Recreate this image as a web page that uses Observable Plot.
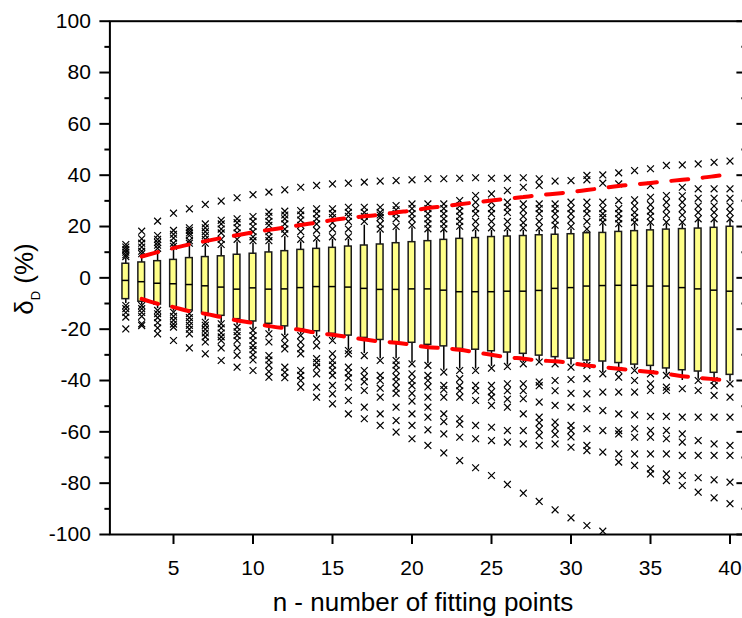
<!DOCTYPE html>
<html><head><meta charset="utf-8">
<script src="https://cdn.jsdelivr.net/npm/d3@7"></script>
<script src="https://cdn.jsdelivr.net/npm/@observablehq/plot@0.6"></script>
<style>
body{margin:0;background:#fff}
#chart svg{font-family:"Liberation Sans",Arial,sans-serif;overflow:hidden;display:block}
</style>
</head><body><div id="chart"></div>
<script>
// ---- data ----
const nValues = [2,3,4,5,6,7,8,9,10,11,12,13,14,15,16,17,18,19,20,21,22,23,24,25,26,27,28,29,30,31,32,33,34,35,36,37,38,39,40];
const q3 = [5.5,6.0,6.5,7.0,7.7,8.1,8.4,9.0,9.4,9.9,10.4,10.9,11.3,11.7,12.2,12.6,13.0,13.5,13.9,14.3,14.8,15.2,15.5,15.9,16.1,16.3,16.6,16.8,17.0,17.4,17.5,17.9,18.2,18.5,18.8,19.0,19.2,19.5,19.9];
const median = [-1.0,-1.5,-2.1,-2.3,-2.6,-3.1,-3.6,-4.4,-3.9,-4.4,-4.3,-3.8,-3.4,-3.4,-3.6,-4.1,-4.5,-4.5,-4.3,-4.3,-4.8,-5.4,-5.4,-5.4,-5.2,-5.2,-4.9,-4.1,-3.8,-3.2,-3.0,-2.9,-2.9,-3.2,-3.2,-3.8,-4.3,-4.8,-5.2];
const q1 = [-8.3,-9.3,-10.4,-11.4,-12.7,-13.8,-14.8,-16.1,-17.0,-17.9,-18.9,-20.0,-20.8,-21.8,-22.5,-23.4,-24.2,-25.1,-25.3,-26.1,-26.7,-27.7,-28.0,-28.6,-29.1,-29.6,-30.3,-30.9,-31.5,-32.2,-32.6,-33.2,-33.8,-34.3,-35.3,-36.0,-36.5,-37.0,-37.8];
const whiskerHigh = [7.5,8.5,10.5,11.5,12.5,12.5,12,14,13.5,13.5,16,14,14.5,15,15,20.5,18,19,19.5,18.5,18.5,19.5,18.5,18.5,18.5,18.5,18.5,20,19,18,21,20.5,21,21,21,21,22.5,22.5,22.5];
const whiskerLow = [-10,-10.5,-12,-13,-13.5,-16.5,-17.5,-18.5,-20,-21,-22.5,-22,-23,-24,-28,-29.5,-31.5,-31.5,-33,-33.5,-36,-35.5,-35.5,-34.5,-34,-33,-32.5,-33,-34,-33.5,-37,-35.5,-35.5,-37,-37.5,-40,-39.5,-39.5,-40.5];
const outliersHigh = [
  [13,12,11,10,9,8.3],
  [18.2,15.2,13.5,12,10.4,9.4],
  [22.1,16.5,15,13.8,12.7,11.5],
  [25.2,18.5,17,15.5,13.5,12.3],
  [26.9,19.5,18.5,17.5,16.5,14.5,13.5],
  [28.6,21,19.5,18,16.5,15,13.5],
  [29.9,22.4,21,19,17.5,15,13],
  [31.2,23,21.5,19.5,17.5,15],
  [32.4,23.9,22,20,18,16,14.5],
  [33.4,25.6,24,22,20.5,18,16,14.5],
  [34.3,26,24.5,23,21,19,17.2],
  [35.3,26.2,24.5,22.5,20.5,18,15],
  [36,26.9,25,23,21,18.5,15.5],
  [36.6,26.9,25,23.5,21.5,19,16],
  [36.9,27.5,25.5,24,22,19,16],
  [37.3,27.5,25.5,24,22],
  [37.7,27.5,25.5,24.5,23.5,21,19],
  [37.9,28.2,26.5,25,23,20],
  [38.2,28.8,27,25,23,20.5],
  [38.6,28.8,27,25,23,21,19.1],
  [38.6,28.8,27,25,23,21,19.1],
  [38.8,30.1,28,26,24,22,20.1],
  [39,32.1,29.5,27,25,22,19.5],
  [38.8,32.7,29.5,27,25,22,19.5],
  [38.8,34,29.5,27.5,25.5,22,19.5],
  [39,35.3,28.8,26.5,24,21.5,19.5],
  [38.6,36,28.8,27,25,22,19.5],
  [37.7,28.8,27,25,22.5,20.5],
  [37.9,29.5,27,25,22.5,20],
  [39.9,38.2,29.5,27,25,22,19],
  [40.1,36.9,29.5,27,25,23.5,21.7],
  [40.9,36.6,30.1,27,25,23,21.1],
  [41.8,30.4,28,25.5,23.5,21.7],
  [42.5,36,31.4,28.5,26,24,21.7],
  [43.8,32.1,29.5,27,24.5,21.7],
  [44,35.3,32,29.5,27,24.5,21.7],
  [44.4,34.7,31,28,25.5,23],
  [45,34.7,31,28,25.5,23],
  [45.5,34.7,31,28,25.5,23]
];
const outliersLow = [
  [-10.8,-12,-13.5,-15.3,-19.9],
  [-10.8,-12,-13.5,-15,-17.9,-18.6],
  [-12.7,-14,-15.5,-17.5,-19.5,-21.8],
  [-13.4,-15,-16.5,-18,-19.2,-24.4],
  [-14,-15.5,-17,-18.5,-20,-21.8,-27.3],
  [-17.3,-18.5,-20,-21.5,-23,-25,-29.6],
  [-17.9,-19.5,-21.5,-23,-24.4,-27.3,-32.2],
  [-19.2,-21,-22.5,-24.4,-27.3,-30.2,-34.8],
  [-20.5,-22.5,-24.4,-26.4,-28,-30,-32,-36.1],
  [-21.8,-25,-30.3,-32,-34,-36.5,-38.7],
  [-23.1,-25.7,-27.7,-34.8,-36.8,-38.9],
  [-22.5,-25,-27.6,-29.6,-36.1,-38,-40,-42.6],
  [-23.8,-26.5,-31.5,-33,-34.7,-37.4,-42.6,-46.5],
  [-24.4,-29.6,-32.2,-34,-36,-38,-41.9,-45.2,-49.1],
  [-28.3,-29.6,-34.8,-37,-39,-42.6,-47.8,-53],
  [-30.3,-36.1,-38.5,-40.5,-43.9,-50.4,-54.9],
  [-32.2,-38,-40,-43,-46.5,-53,-57.5],
  [-32.2,-34,-36,-38.5,-40.5,-43,-45,-50.4,-55.6,-60.1],
  [-33.5,-37.4,-40,-42,-45,-48,-53,-57.5,-62.7],
  [-34.1,-38,-40,-42.5,-46.5,-50.4,-54.3,-59.2,-65.3],
  [-36.7,-41.9,-43.5,-46.5,-53,-56,-60.8,-68.2],
  [-36.1,-39.3,-42,-44,-46.5,-54.9,-57,-62.1,-71.2],
  [-36.1,-41.9,-44,-47.8,-57.5,-62.7,-74.0],
  [-35.2,-41.9,-44.4,-46.5,-49.7,-58.2,-63.4,-77.0],
  [-34.5,-41.3,-44,-47.3,-50.4,-59.5,-64,-80.5],
  [-33.5,-41.3,-44,-47.1,-53,-59.5,-64.7,-83.9],
  [-32.8,-40.6,-42,-48.4,-54.3,-56.5,-59,-61.5,-65.3,-87.1],
  [-33.5,-40,-44,-49.7,-56.2,-58.5,-61,-64.7,-90.4],
  [-34.8,-39.6,-45,-50.4,-57.5,-59.5,-62,-66,-93.5],
  [-34.1,-39.3,-45.2,-51,-58.8,-65.3,-67.3,-96.5],
  [-37.4,-44.5,-51.7,-59.5,-67.9,-98.7],
  [-36.1,-38.7,-44.5,-53,-59.5,-60.8,-68.6,-71.8],
  [-36.1,-40,-44.5,-53.4,-58.8,-62.1,-68.6,-73.1],
  [-37.4,-41.3,-43.9,-54,-59.5,-62.1,-68.6,-74.4,-76.4],
  [-38,-42.6,-43.9,-54,-59.5,-62.7,-68.6,-76.4,-79],
  [-43.2,-54.3,-60.8,-64,-69.2,-77,-80.9],
  [-40,-43.9,-54.3,-63.4,-69.2,-77.9,-83.5],
  [-40,-42,-45.8,-54.3,-64.7,-69.2,-78.7,-85.7],
  [-41.3,-46.5,-54.3,-65.3,-69.2,-79.6,-88.0]
];
const limitN = [3,4,5,6,7,8,9,10,11,12,13,14,15,16,17,18,19,20,21,22,23,24,25,26,27,28,29,30,31,32,33,34,35,36,37,38,39,40];
const limitUpper = [8.3,10.0,11.6,13.0,14.3,15.5,16.6,17.7,18.7,19.6,20.6,21.5,22.5,23.3,24.0,24.6,25.5,26.2,27.2,27.9,28.7,29.4,30.1,30.8,31.5,32.2,32.8,33.4,34.2,35.0,35.8,36.4,37.0,37.6,38.2,38.8,39.6,40.3];
const limitLower = [-8.2,-10.1,-11.4,-13.0,-14.0,-15.3,-16.6,-17.6,-18.8,-19.6,-20.3,-21.4,-22.2,-23.1,-24.0,-24.8,-25.3,-26.1,-27.0,-27.4,-28.0,-29.0,-30.0,-30.9,-31.5,-32.2,-32.5,-33.2,-34.1,-34.8,-35.4,-36.1,-36.7,-37.4,-38.3,-39.0,-39.5,-40.3];
const yMajorTicks = [-100,-80,-60,-40,-20,0,20,40,60,80,100];
const yMinorTicks = [-90,-70,-50,-30,-10,10,30,50,70,90];
const xTicks = [5,10,15,20,25,30,35,40];

// ---- build tables ----
const boxes = nValues.map((n, i) => ({n, q1: q1[i], med: median[i], q3: q3[i], lo: whiskerLow[i], hi: whiskerHigh[i]}));
const outPts = nValues.flatMap((n, i) => [...outliersHigh[i], ...outliersLow[i]].map(v => ({n, v})));
const upperPts = limitN.map((n, i) => ({n, v: limitUpper[i]}));
const lowerPts = limitN.map((n, i) => ({n, v: limitLower[i]}));
const half = 0.21;

const chart = Plot.plot({
  width: 742,
  height: 618,
  marginLeft: 109.4,
  marginRight: -3.4,
  marginTop: 20.7,
  marginBottom: 84,
  x: {domain: [1, 41]},
  y: {domain: [-100, 100]},
  style: {fontFamily: '"Liberation Sans", Arial, sans-serif', background: "#fff"},
  marks: [
    Plot.ruleX(boxes, {x: "n", y1: "lo", y2: "q1", stroke: "#000", strokeWidth: 1.5}),
    Plot.ruleX(boxes, {x: "n", y1: "q3", y2: "hi", stroke: "#000", strokeWidth: 1.5}),
    Plot.dot(outPts, {x: "n", y: "v", symbol: "times", r: 3.2, stroke: "#000", strokeWidth: 1.2}),
    Plot.rect(boxes, {x1: d => d.n - half, x2: d => d.n + half, y1: "q1", y2: "q3", fill: "#ffff88", stroke: "#1a1a1a", strokeWidth: 1.5}),
    Plot.ruleY(boxes, {y: "med", x1: d => d.n - half, x2: d => d.n + half, stroke: "#000", strokeWidth: 1.5}),
    Plot.line(upperPts, {x: "n", y: "v", stroke: "#ff0000", strokeWidth: 4, strokeDasharray: "17,14.5", curve: "monotone-x"}),
    Plot.line(lowerPts, {x: "n", y: "v", stroke: "#ff0000", strokeWidth: 4, strokeDasharray: "17,14.5", curve: "monotone-x"}),
    Plot.axisY(yMajorTicks, {anchor: "left", tickSize: 10, tickPadding: 9, fontSize: 21, strokeWidth: 2, label: null, tickFormat: d => String(d)}),
    Plot.axisY(yMinorTicks, {anchor: "left", tickSize: 5, strokeWidth: 2, label: null, tickFormat: () => ""}),
    Plot.axisY(yMajorTicks, {anchor: "right", tickSize: -10, strokeWidth: 2, label: null, tickFormat: () => ""}),
    Plot.axisY(yMinorTicks, {anchor: "right", tickSize: -5, strokeWidth: 2, label: null, tickFormat: () => ""}),
    Plot.axisX(xTicks, {anchor: "bottom", tickSize: 10, tickPadding: 16, fontSize: 21, strokeWidth: 2, label: null, tickFormat: d => String(d)}),
    Plot.frame({stroke: "#000", strokeWidth: 2})
  ]
});

const svg = d3.select(chart);
svg.append("text")
  .attr("x", 423).attr("y", 611)
  .attr("text-anchor", "middle")
  .attr("font-size", 26)
  .attr("fill", "#000")
  .text("n - number of fitting points");
const yl = svg.append("text")
  .attr("transform", "translate(33,279) rotate(-90)")
  .attr("text-anchor", "middle")
  .attr("font-size", 26)
  .attr("fill", "#000");
yl.append("tspan").text("δ");
yl.append("tspan").attr("font-size", 13).attr("dy", 7).text("D");
yl.append("tspan").attr("dy", -7).text(" (%)");

document.getElementById("chart").appendChild(chart);
</script>
</body></html>
